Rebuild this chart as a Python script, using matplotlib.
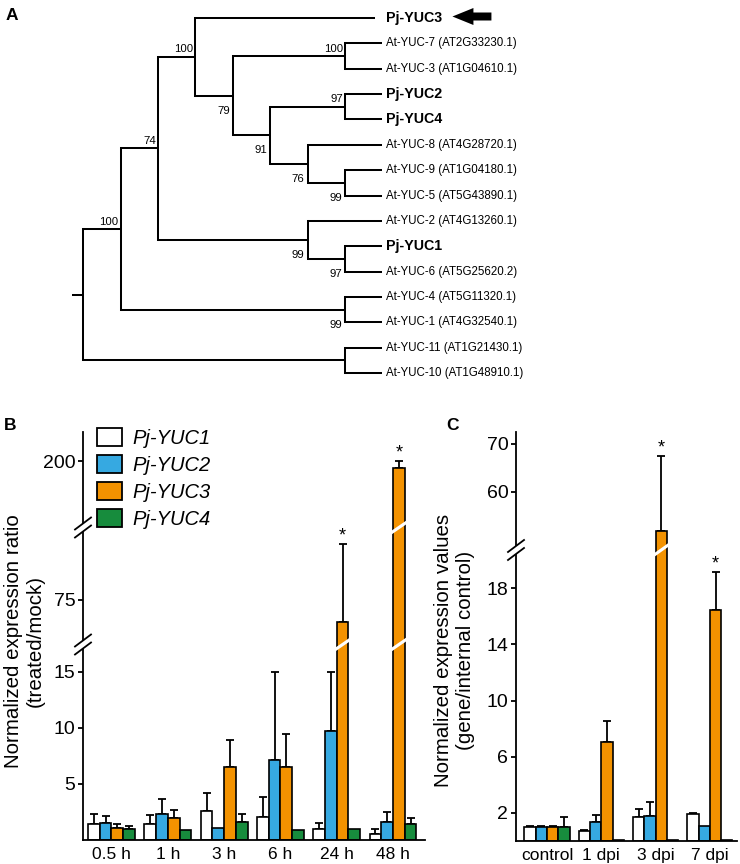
import numpy as np
import matplotlib
matplotlib.use("Agg")
import matplotlib.pyplot as plt
from matplotlib.transforms import blended_transform_factory
from matplotlib.patches import Polygon, Patch, FancyArrow
from matplotlib.lines import Line2D
from matplotlib import font_manager

plt.rcParams['font.family'] = ['Liberation Sans', 'DejaVu Sans']
_names = {f.name for f in font_manager.fontManager.ttflist}
TREE_FONT = ['Liberation Sans Narrow'] if 'Liberation Sans Narrow' in _names else ['Liberation Sans']
NARROW = TREE_FONT[0] == 'Liberation Sans Narrow'

# ---------------- DATA ----------------
# Panel A: tree topology, branch lengths (cladogram units), bootstrap support
def N(support, length, *children):
    return {"support": support, "length": length, "children": list(children)}

def L(name, length):
    return {"name": name, "length": length, "children": []}

TREE = N(None, 0.3,
         N(100, 1,
           N(74, 1,
             N(100, 1,
               L("Pj-YUC3", 4.8),
               N(79, 1,
                 N(100, 3, L("At-YUC-7 (AT2G33230.1)", 1), L("At-YUC-3 (AT1G04610.1)", 1)),
                 N(91, 1,
                   N(97, 2, L("Pj-YUC2", 1), L("Pj-YUC4", 1)),
                   N(76, 1,
                     L("At-YUC-8 (AT4G28720.1)", 2),
                     N(99, 1, L("At-YUC-9 (AT1G04180.1)", 1), L("At-YUC-5 (AT5G43890.1)", 1)))))),
             N(99, 4,
               L("At-YUC-2 (AT4G13260.1)", 2),
               N(97, 1, L("Pj-YUC1", 1), L("At-YUC-6 (AT5G25620.2)", 1)))),
           N(99, 6, L("At-YUC-4 (AT5G11320.1)", 1), L("At-YUC-1 (AT4G32540.1)", 1))),
         N(None, 7, L("At-YUC-11 (AT1G21430.1)", 1), L("At-YUC-10 (AT1G48910.1)", 1)))

highlight = "Pj-YUC3"

# Panel B
genes = ["Pj-YUC1", "Pj-YUC2", "Pj-YUC3", "Pj-YUC4"]
b_times = ["0.5 h", "1 h", "3 h", "6 h", "24 h", "48 h"]
b_mean = {
    "Pj-YUC1": [1.43, 1.40, 2.60, 2.05, 1.00, 0.50],
    "Pj-YUC2": [1.55, 2.30, 1.10, 7.15, 9.75, 1.65],
    "Pj-YUC3": [1.04, 2.00, 6.55, 6.55, 64.0, 196.5],
    "Pj-YUC4": [1.00, 0.90, 1.65, 0.87, 1.00, 1.40],
}
b_err = {
    "Pj-YUC1": [0.87, 0.80, 1.60, 1.80, 0.55, 0.45],
    "Pj-YUC2": [0.60, 1.40, 0.00, 7.85, 5.25, 0.85],
    "Pj-YUC3": [0.42, 0.70, 2.35, 2.90, 39.2, 3.5],
    "Pj-YUC4": [0.25, 0.00, 0.70, 0.00, 0.00, 0.60],
}
b_sig = [("Pj-YUC3", 4), ("Pj-YUC3", 5)]
b_yticks = [5, 10, 15, 75, 200]

# Panel C
c_stages = ["control", "1 dpi", "3 dpi", "7 dpi"]
c_mean = {
    "Pj-YUC1": [0.97, 0.70, 1.68, 1.89],
    "Pj-YUC2": [0.99, 1.37, 1.80, 1.05],
    "Pj-YUC3": [1.00, 7.06, 51.9, 16.44],
    "Pj-YUC4": [1.00, 0.05, 0.05, 0.05],
}
c_err = {
    "Pj-YUC1": [0.12, 0.10, 0.62, 0.08],
    "Pj-YUC2": [0.06, 0.47, 1.00, 0.00],
    "Pj-YUC3": [0.05, 1.49, 15.5, 2.73],
    "Pj-YUC4": [0.72, 0.00, 0.00, 0.00],
}
c_sig = [("Pj-YUC3", 2), ("Pj-YUC3", 3)]
c_yticks = [2, 6, 10, 14, 18, 60, 70]

colors = {"Pj-YUC1": "#ffffff", "Pj-YUC2": "#36a9e1", "Pj-YUC3": "#f39200", "Pj-YUC4": "#178c3d"}

# ---------------- FIGURE ----------------
W, H = 740, 864
fig = plt.figure(figsize=(W / 100, H / 100), dpi=100)

def px_axes(l, t, r, b):
    return fig.add_axes([l / W, 1 - b / H, (r - l) / W, (b - t) / H])

# ---------- Panel A: tree ----------
axA = fig.add_axes([0, 0, 1, 1])
axA.set_xlim(0, W)
axA.set_ylim(H, 0)
axA.axis("off")

X0 = 72.0
UNIT = 37.4
Y0 = 18.0
DY = 25.36
TLW = 1.45
leaf_counter = [0]
leaf_items = []
internal = []

def layout(node, xp):
    x = xp + node["length"] * UNIT
    if not node["children"]:
        y = Y0 + DY * leaf_counter[0]
        leaf_counter[0] += 1
        axA.plot([xp, x], [y, y], color="k", lw=TLW, solid_capstyle="butt")
        leaf_items.append((node["name"], x, y))
        return y
    ys = [layout(c, x) for c in node["children"]]
    y = float(np.mean(ys))
    axA.plot([x, x], [min(ys), max(ys)], color="k", lw=TLW, solid_capstyle="projecting")
    axA.plot([xp, x], [y, y], color="k", lw=TLW, solid_capstyle="butt")
    internal.append((node["support"], x, y))
    return y

layout(TREE, X0)
lab_x = max(it[1] for it in leaf_items) + 4
at_size = 10.0 if NARROW else 8.3
pj_size = 12.0 if NARROW else 10.3
bs_size = 9.6 if NARROW else 8.2
for name, x, y in leaf_items:
    if name.startswith("Pj"):
        axA.text(lab_x, y, name, fontsize=pj_size, fontweight="bold", va="center", ha="left",
                 family=TREE_FONT)
    else:
        axA.text(lab_x, y, name, fontsize=at_size, va="center", ha="left", family=TREE_FONT)
    if name == highlight:
        axA.add_patch(FancyArrow(lab_x + 105, y - 1.5, -39, 0, width=8, head_width=17,
                                 head_length=21, length_includes_head=True, color="k", lw=0))

supp_nodes = [n for n in internal if n[0] is not None]
# post-order: N7_3, N2_4, N9_5, N6, N5, N4, N3, N1_6, N2_1_6, N2, N4_1, N1
below_map = {0: False, 1: False, 2: True, 3: True, 4: True, 5: True, 6: False,
             7: True, 8: True, 9: False, 10: True, 11: False}
for i, (s, x, y) in enumerate(supp_nodes):
    if below_map[i]:
        axA.text(x - 3, y + 18, str(s), fontsize=bs_size, ha="right", va="baseline", family=TREE_FONT)
    else:
        axA.text(x - 2, y - 4.5, str(s), fontsize=bs_size, ha="right", va="baseline", family=TREE_FONT)

fig.text(6 / W, 1 - 16 / H, "A", fontsize=12.5, fontweight="bold", va="center", ha="left")
fig.text(4 / W, 1 - 426 / H, "B", fontsize=12.5, fontweight="bold", va="center", ha="left")
fig.text(446 / W, 1 - 426 / H, "C", fontsize=12.5, fontweight="bold", va="center", ha="left")

# ---------- bar panels ----------
def bar_panel(ax, groups, means, errs, sig, vk, hk, gaps, yticks, bw, axw, axh):
    vk = np.asarray(vk, float)
    hk = np.asarray(hk, float)
    f = lambda v: np.interp(v, vk, hk)
    g = lambda h: np.interp(h, hk, vk)
    ax.set_yscale("function", functions=(f, g))
    ax.set_ylim(vk[0], vk[-1])
    ax.set_yticks(yticks)
    ax.set_yticklabels([str(t) for t in yticks])
    ax.minorticks_off()
    trans = blended_transform_factory(ax.transData, ax.transAxes)
    n = len(groups)
    for j, gname in enumerate(genes):
        xs = np.arange(n) + (j - 1.5) * bw
        ax.bar(xs, means[gname], width=bw, color=colors[gname], edgecolor="k",
               linewidth=1.2, zorder=2)
        for i in range(n):
            m, e = means[gname][i], errs[gname][i]
            if e > 0:
                ax.errorbar([xs[i]], [m], yerr=[[0], [e]], fmt="none", ecolor="k",
                            elinewidth=1.3, capsize=3, capthick=1.3, zorder=1.5)
            if (gname, i) in sig:
                ax.annotate("*", (xs[i], m + e), xytext=(0, 2.5), textcoords="offset points",
                            ha="center", va="baseline", fontsize=13)
            for lo, hi in gaps:
                if m > hi:
                    hc = (f(lo) + f(hi)) / 2
                    xl, xr = xs[i] - bw / 2 - 0.025, xs[i] + bw / 2 + 0.025
                    s, t = 5.0, 1.9
                    poly = Polygon([(xl, (hc - s - t) / axh), (xr, (hc + s - t) / axh),
                                    (xr, (hc + s + t) / axh), (xl, (hc - s + t) / axh)],
                                   closed=True, transform=trans, facecolor="white",
                                   edgecolor="none", zorder=3)
                    ax.add_patch(poly)
    # axis breaks
    for lo, hi in gaps:
        hc = (f(lo) + f(hi)) / 2
        dx, dy, sep = 8.0, 6.0, 4.0
        pw = Polygon([(-dx / axw, (hc - dy - sep) / axh), (dx / axw, (hc + dy - sep) / axh),
                      (dx / axw, (hc + dy + sep) / axh), (-dx / axw, (hc - dy + sep) / axh)],
                     closed=True, transform=ax.transAxes, facecolor="white", edgecolor="none",
                     zorder=5, clip_on=False)
        ax.add_patch(pw)
        for sgn in (-1, 1):
            ax.add_line(Line2D([-dx / axw, dx / axw],
                               [(hc - dy + sgn * sep) / axh, (hc + dy + sgn * sep) / axh],
                               transform=ax.transAxes, color="k", lw=1.3, clip_on=False, zorder=6))
    ax.set_xticks(np.arange(n))
    ax.set_xticklabels(groups, fontsize=12.5)
    ax.tick_params(axis="x", length=0, pad=5)
    ax.tick_params(axis="y", direction="out", length=3.5, width=1.3, labelsize=14, pad=2)
    for sp in ("top", "right"):
        ax.spines[sp].set_visible(False)
    for sp in ("left", "bottom"):
        ax.spines[sp].set_linewidth(1.3)
    ax.patch.set_alpha(0)

# Panel B
axB = px_axes(83, 432, 425, 840)
bar_panel(axB, b_times, b_mean, b_err, b_sig,
          [0, 16.5, 58, 108, 170.5, 214.5], [0, 185, 206, 306, 319, 408],
          [(16.5, 58), (108, 170.5)], b_yticks, 0.208, 342, 408)
axB.set_xlim(-0.506, 5.567)
handles = [Patch(facecolor=colors[g], edgecolor="k", linewidth=1.3) for g in genes]
axB.legend(handles, genes, loc="upper left", bbox_to_anchor=(97 / W, 1 - 428 / H),
           bbox_transform=fig.transFigure, frameon=False, borderpad=0, borderaxespad=0,
           handlelength=1.25, handleheight=1.0, handletextpad=0.5, labelspacing=0.35,
           prop={"style": "italic", "size": 14.5})
fig.text(24.5 / W, 1 - 641 / H, "Normalized expression ratio\n(treated/mock)", rotation=90,
         ha="center", va="center", fontsize=14.8, multialignment="center", linespacing=1.2)

# Panel C
axC = px_axes(516, 432, 737, 841)
bar_panel(axC, c_stages, c_mean, c_err, c_sig,
          [0, 20, 50, 72.4], [0, 281, 301, 409],
          [(20, 50)], c_yticks, 0.208, 221, 409)
axC.set_xlim(-0.571, 3.499)
fig.text(454.5 / W, 1 - 650 / H, "Normalized expression values\n(gene/internal control)", rotation=90,
         ha="center", va="center", fontsize=14.8, multialignment="center", linespacing=1.2)

fig.savefig("out.png", dpi=100)
